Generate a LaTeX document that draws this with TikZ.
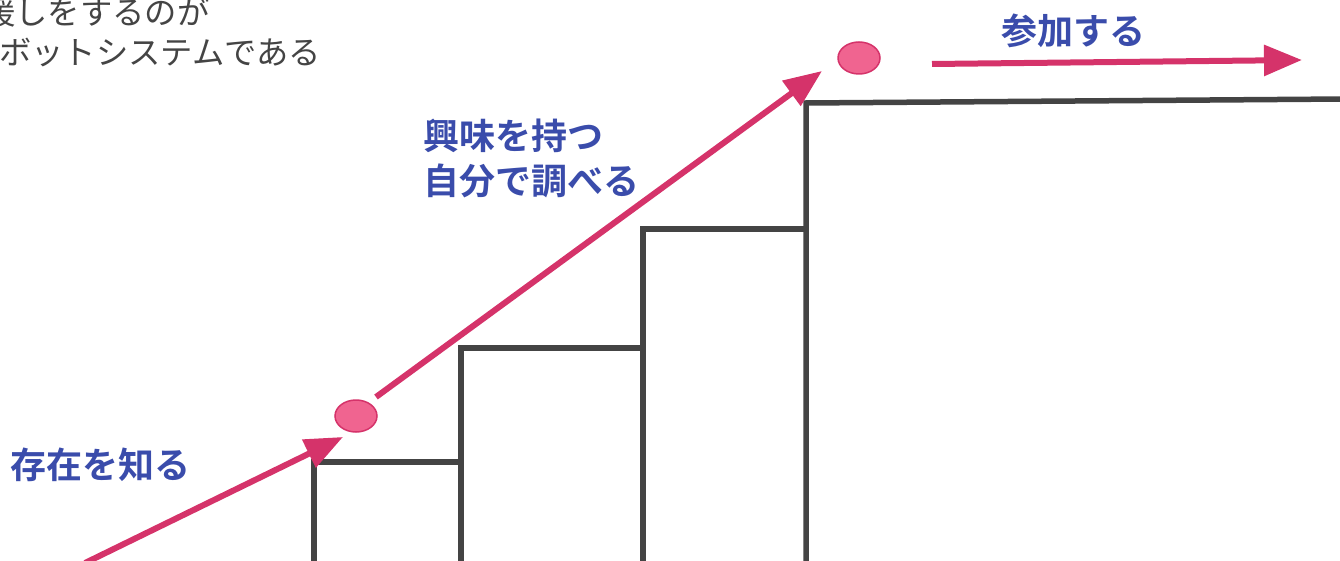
\documentclass[tikz,border=0pt]{standalone}
\usepackage{fontspec}
\newfontfamily\jp{Noto Sans CJK JP}
\newfontfamily\jpb{Noto Sans CJK JP Bold}
\usetikzlibrary{arrows.meta,shapes.geometric}
\definecolor{stair}{HTML}{444444}
\definecolor{pinkline}{HTML}{D5336A}
\definecolor{pinkfill}{HTML}{F06490}
\definecolor{bluetxt}{HTML}{3A4CAB}
\definecolor{graytxt}{HTML}{444444}
\tikzset{
  stairline/.style={draw=stair, line width=5.5pt, line join=miter},
  pinkarrow/.style={draw=pinkline, line width=6pt, -{Triangle[length=38pt,width=30pt]}},
  dot/.style={ellipse, draw=pinkline, line width=1.5pt, fill=pinkfill, minimum width=42pt, minimum height=32pt, inner sep=0pt},
  bluelabel/.style={text=bluetxt, font=\jpb\fontsize{36}{45}\selectfont, inner sep=0pt},
  graylabel/.style={text=graytxt, font=\jp\fontsize{32.3}{40}\selectfont, inner sep=0pt, anchor=west}
}
\begin{document}
\begin{tikzpicture}[x=1pt,y=-1pt]
\useasboundingbox (0,0) rectangle (1340,561);
\clip (0,0) rectangle (1340,561);
% gray text (cut off at the picture's edge, as in the reference)
\node[graylabel] (g1) at (-17,12) {援しをするのが};
\node[graylabel] (g2) at (-1,52) {ボットシステムである};
% stairs
\draw[stairline] (314,565) -- (314,462) -- (461,462);
\draw[stairline] (461,565) -- (461,348) -- (643,348);
\draw[stairline] (643,565) -- (643,229) -- (806,229);
\draw[stairline] (806,565) -- (806,103) -- (1345,99);
% dots
\node[dot] (d1) at (356,416) {};
\node[dot] (d2) at (859,58) {};
% arrows
\coordinate (a1s) at (85,563);
\coordinate (a1e) at (343,437);
\coordinate (a2s) at (376,397);
\coordinate (a2e) at (822,71);
\coordinate (a3s) at (932,64);
\coordinate (a3e) at (1302,60);
\draw[pinkarrow] (a1s) -- (a1e);
\draw[pinkarrow] (a2s) -- (a2e);
\draw[pinkarrow] (a3s) -- (a3e);
% labels
\node[bluelabel, anchor=west] (l1) at (10,465) {存在を知る};
\node[bluelabel, anchor=west, align=left] (l2) at (423,158) {興味を持つ\\自分で調べる};
\node[bluelabel] (l3) at (1073,31) {参加する};
\end{tikzpicture}
\end{document}
